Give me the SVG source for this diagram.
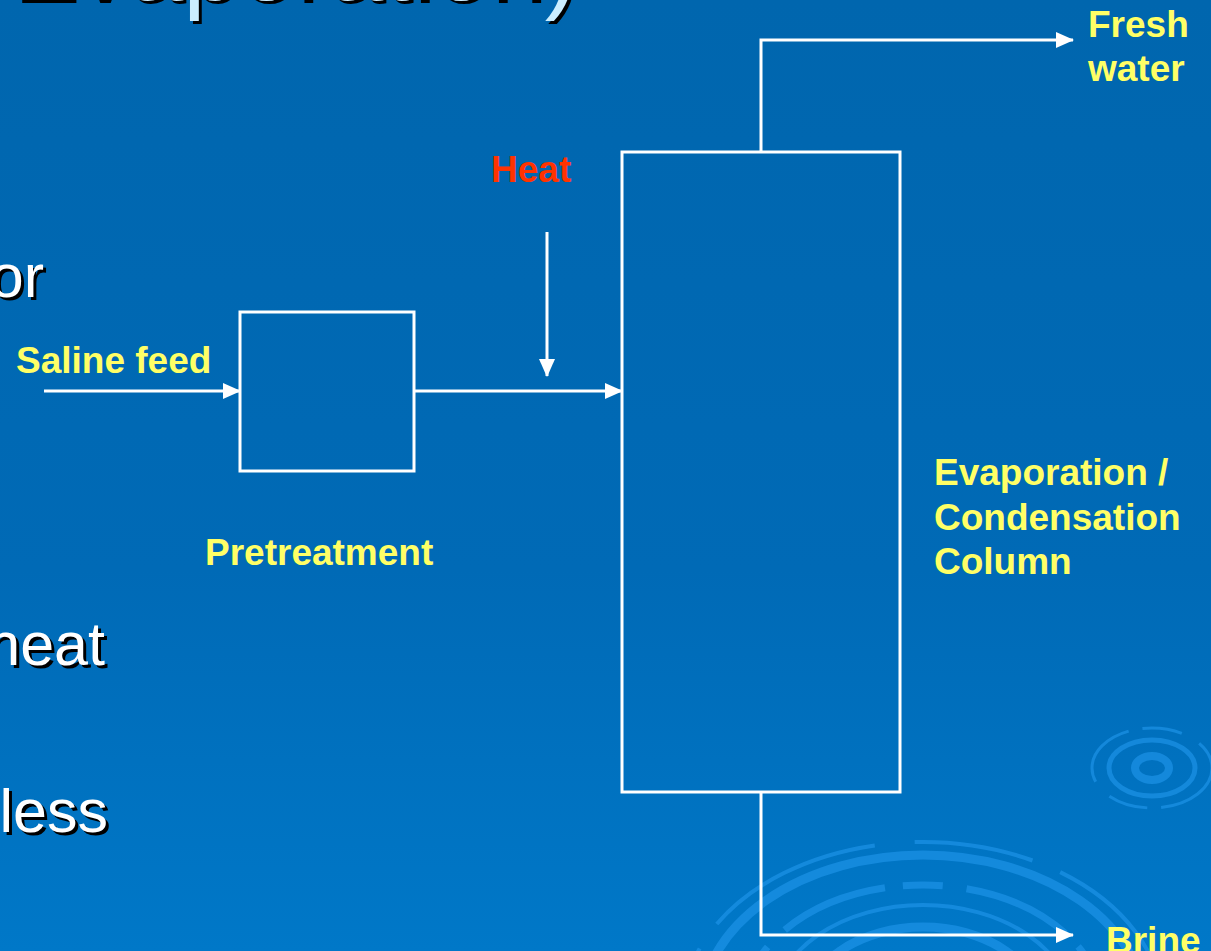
<svg xmlns="http://www.w3.org/2000/svg" width="1211" height="951" viewBox="0 0 1211 951">
<defs>
<linearGradient id="bg" x1="0" y1="0" x2="0" y2="1">
<stop offset="0" stop-color="#0066AE"/>
<stop offset="0.6" stop-color="#006AB6"/>
<stop offset="1" stop-color="#0078C8"/>
</linearGradient>
<marker id="ah" markerWidth="18" markerHeight="16" refX="17" refY="8" orient="auto" markerUnits="userSpaceOnUse">
<path d="M0,0 L18,8 L0,16 Z" fill="#FFFFFF"/>
</marker>
<style>
.big{font-family:"Liberation Sans",Arial,sans-serif;font-size:61px;}
.title{font-family:"Liberation Sans",Arial,sans-serif;font-size:100px;}
.sh{fill:#000000;}
.fg{fill:#FFFFFF;}
.lbl{font-family:"Liberation Sans",Arial,sans-serif;font-size:37px;font-weight:bold;fill:#FFFF66;}
.heat{fill:#FF3300;}
.box{fill:none;stroke:#FFFFFF;stroke-width:3;}
.flow{fill:none;stroke:#FFFFFF;stroke-width:3;marker-end:url(#ah);}
.rip{fill:none;stroke:#1E95EA;opacity:0.65;}
</style>
</defs>
<rect x="0" y="0" width="1211" height="951" fill="url(#bg)"/>
<g id="ripples">
<ellipse class="rip" cx="1152" cy="768" rx="17" ry="12" stroke-width="8"/>
<ellipse class="rip" cx="1152" cy="768" rx="43" ry="28" stroke-width="5"/>
<ellipse class="rip" cx="1152" cy="768" rx="60" ry="40" stroke-width="3" stroke-dasharray="70 14 40 20"/>
<ellipse class="rip" cx="923" cy="1010" rx="240" ry="168" stroke-width="4" stroke-dasharray="180 40 120 30"/>
<ellipse class="rip" cx="923" cy="1010" rx="222" ry="155" stroke-width="9"/>
<ellipse class="rip" cx="923" cy="1010" rx="180" ry="125" stroke-width="7" stroke-dasharray="110 18 40 24"/>
<ellipse class="rip" cx="923" cy="1010" rx="150" ry="105" stroke-width="4"/>
<ellipse class="rip" cx="923" cy="1010" rx="118" ry="83" stroke-width="9"/>
</g>
<g id="bgtext">
<text class="title sh" x="581" y="3" text-anchor="end">Evaporation)</text>
<text class="title" x="578" y="0" text-anchor="end" fill="#CCEEFF">Evaporation)</text>
<text class="big sh" x="47" y="300" text-anchor="end">or</text>
<text class="big fg" x="44" y="297" text-anchor="end">or</text>
<text class="big sh" x="108" y="668" text-anchor="end">heat</text>
<text class="big fg" x="105" y="665" text-anchor="end">heat</text>
<text class="big sh" x="111" y="835" text-anchor="end">less</text>
<text class="big fg" x="108" y="832" text-anchor="end">less</text>
</g>
<g id="connectors">
<line class="flow" x1="44" y1="391" x2="240" y2="391"/>
<line class="flow" x1="414" y1="391" x2="622" y2="391"/>
<line class="flow" x1="547" y1="232" x2="547" y2="376"/>
<polyline class="flow" points="761,152 761,40 1073,40"/>
<polyline class="flow" points="761,792 761,935 1073,935"/>
</g>
<g id="pretreatment">
<rect class="box" x="240" y="312" width="174" height="159"/>
<text class="lbl" x="205" y="565">Pretreatment</text>
</g>
<g id="column">
<rect class="box" x="622" y="152" width="278" height="640"/>
<text class="lbl" x="934" y="485">Evaporation /</text>
<text class="lbl" x="934" y="530">Condensation</text>
<text class="lbl" x="934" y="574">Column</text>
</g>
<g id="saline-feed"><text class="lbl" x="16" y="373">Saline feed</text></g>
<g id="heat"><text class="lbl heat" x="491" y="182">Heat</text></g>
<g id="fresh-water">
<text class="lbl" x="1088" y="37">Fresh</text>
<text class="lbl" x="1088" y="81">water</text>
</g>
<g id="brine"><text class="lbl" x="1106" y="953">Brine</text></g>
</svg>
